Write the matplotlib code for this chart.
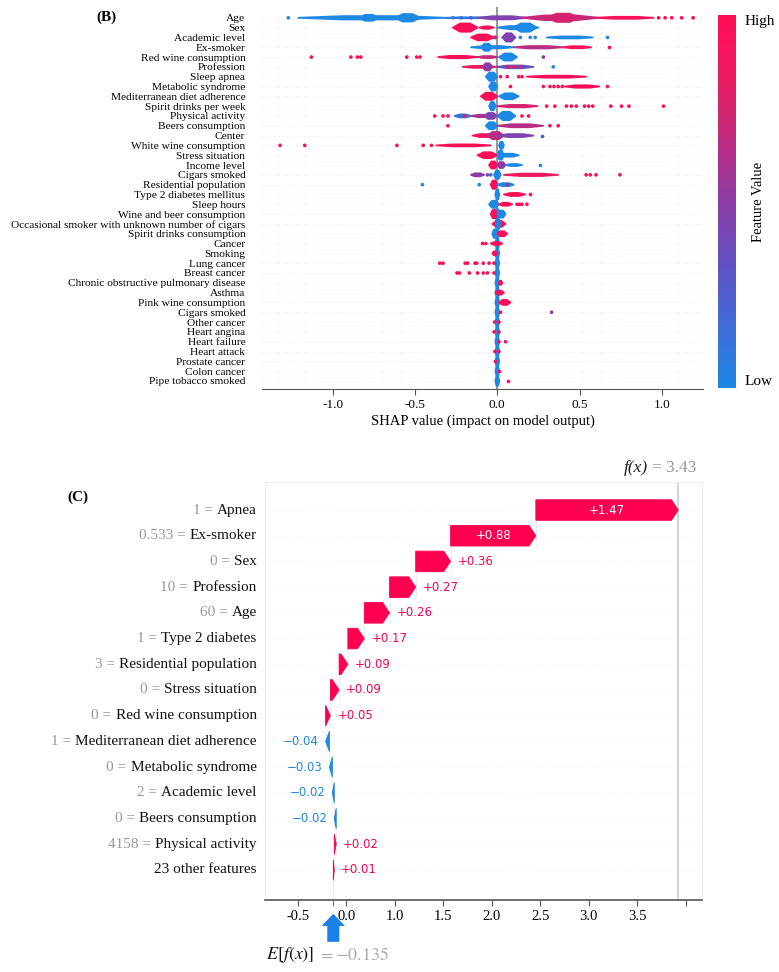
import matplotlib
matplotlib.use('Agg')
import matplotlib.pyplot as plt
import matplotlib.transforms as mtransforms
from matplotlib.colors import LinearSegmentedColormap
from matplotlib.colorbar import ColorbarBase
from matplotlib.patches import Polygon

plt.rcParams['font.family'] = ['Liberation Serif', 'DejaVu Serif']
plt.rcParams['mathtext.fontset'] = 'stix'
plt.rcParams['axes.unicode_minus'] = False

# ---------------- panel B : beeswarm ----------------
features_b = ['Age', 'Sex', 'Academic level', 'Ex-smoker', 'Red wine consumption', 'Profession',
              'Sleep apnea', 'Metabolic syndrome', 'Mediterranean diet adherence',
              'Spirit drinks per week', 'Physical activity', 'Beers consumption', 'Center',
              'White wine consumption', 'Stress situation', 'Income level', 'Cigars smoked',
              'Residential population', 'Type 2 diabetes mellitus', 'Sleep hours',
              'Wine and beer consumption', 'Occasional smoker with unknown number of cigars',
              'Spirit drinks consumption', 'Cancer', 'Smoking', 'Lung cancer', 'Breast cancer',
              'Chronic obstructive pulmonary disease', 'Asthma', 'Pink wine consumption',
              'Cigars smoked', 'Other cancer', 'Heart angina', 'Heart failure', 'Heart attack',
              'Prostate cancer', 'Colon cancer', 'Pipe tobacco smoked']

zero_blue = (-0.012, 0.012, 0.0, 0.5)
bands_b = [
    [(-1.21, -0.31, 0.0, 0.17), (-0.84, -0.72, 0.0, 0.3), (-0.62, -0.47, 0.0, 0.38),
     (-0.31, -0.05, 0.1, 0.05), (-0.12, 0.18, 0.45, 0.16), (0.15, 0.62, 0.7, 0.24),
     (0.30, 0.50, 0.75, 0.42), (0.60, 0.95, 0.95, 0.1)],
    [(-0.27, -0.12, 1.0, 0.42), (-0.11, -0.02, 1.0, 0.12), (0.0, 0.25, 0.0, 0.16), (0.10, 0.24, 0.0, 0.42)],
    [(-0.16, -0.02, 0.95, 0.3), (-0.03, 0.0, 0.7, 0.1), (0.03, 0.11, 0.45, 0.42), (0.30, 0.58, 0.0, 0.1)],
    [(-0.16, 0.10, 0.0, 0.12), (-0.10, -0.03, 0.0, 0.36), (0.10, 0.40, 0.65, 0.12), (0.40, 0.57, 0.95, 0.1)],
    [(-0.36, -0.12, 1.0, 0.12), (-0.12, 0.0, 0.7, 0.1), (0.01, 0.12, 0.0, 0.36)],
    [(-0.21, 0.0, 0.85, 0.1), (-0.09, -0.03, 0.5, 0.36), (0.0, 0.22, 0.3, 0.14)],
    [(-0.07, 0.0, 0.0, 0.42), (0.18, 0.54, 1.0, 0.1)],
    [(-0.05, 0.0, 0.0, 0.42), (0.41, 0.62, 1.0, 0.12)],
    [(-0.10, 0.0, 1.0, 0.36), (0.01, 0.13, 0.0, 0.3)],
    [(-0.05, -0.01, 0.0, 0.42), (0.0, 0.245, 0.75, 0.12)],
    [(-0.26, -0.16, 0.1, 0.15), (-0.16, 0.0, 0.6, 0.12), (-0.08, 0.0, 0.45, 0.3), (0.0, 0.11, 0.0, 0.42)],
    [(-0.07, 0.0, 0.0, 0.36), (0.0, 0.28, 0.65, 0.15)],
    [(-0.15, 0.0, 0.9, 0.15), (-0.06, 0.04, 0.65, 0.36), (0.0, 0.22, 0.45, 0.15)],
    [(-0.37, -0.04, 1.0, 0.1), (0.01, 0.04, 0.0, 0.36)],
    [(-0.12, 0.0, 1.0, 0.3), (0.01, 0.13, 0.0, 0.15), (0.0, 0.04, 0.0, 0.45)],
    [(-0.05, 0.0, 1.0, 0.36), (0.0, 0.05, 0.5, 0.3), (0.05, 0.15, 0.0, 0.1)],
    [(-0.16, -0.08, 0.5, 0.15), (-0.02, 0.02, 0.0, 0.42), (0.04, 0.37, 0.85, 0.12)],
    [(-0.04, 0.0, 1.0, 0.42), (0.0, 0.10, 0.0, 0.15)],
    [zero_blue, (0.04, 0.17, 1.0, 0.15)],
    [(-0.05, 0.01, 0.0, 0.36), (0.01, 0.09, 1.0, 0.15)],
    [zero_blue, (-0.04, 0.0, 1.0, 0.42), (0.0, 0.05, 0.0, 0.36)],
    [zero_blue, (-0.03, 0.05, 1.0, 0.3), (-0.01, 0.02, 0.05, 0.45)],
    [zero_blue, (-0.03, 0.0, 0.0, 0.42), (0.0, 0.06, 1.0, 0.25)],
    [zero_blue, (-0.04, 0.03, 1.0, 0.15)],
    [zero_blue, (-0.03, 0.0, 1.0, 0.2)],
    [zero_blue],
    [zero_blue],
    [zero_blue, (0.01, 0.03, 1.0, 0.2)],
    [zero_blue, (-0.01, 0.04, 1.0, 0.2)],
    [zero_blue, (0.01, 0.08, 1.0, 0.25)],
    [zero_blue], [zero_blue], [zero_blue], [zero_blue], [zero_blue], [zero_blue], [zero_blue], [zero_blue],
]

# single points: (shap value, feature value 0..1)
dots_b = [
    [(-1.27, 0.0), (-0.27, 0.05), (-0.22, 0.1), (-0.16, 0.2), (0.98, 1), (1.02, 1), (1.06, 1), (1.12, 1), (1.19, 1)],
    [],
    [(0.14, 0), (0.20, 0), (0.23, 0), (0.67, 0)],
    [(0.68, 1)],
    [(-1.13, 1), (-0.89, 1), (-0.85, 1), (-0.83, 1), (-0.55, 1), (-0.49, 1), (-0.47, 1), (0.28, 0.5)],
    [(0.06, 1), (0.10, 1), (0.14, 0.9), (0.34, 0.0)],
    [(0.02, 1), (0.06, 1), (0.13, 1), (0.15, 1)],
    [(0.08, 1), (0.28, 1), (0.32, 1), (0.345, 1), (0.37, 1), (0.395, 1), (0.67, 1)],
    [],
    [(0.30, 1), (0.35, 1), (0.42, 1), (0.45, 1), (0.48, 1), (0.53, 1), (0.555, 1), (0.58, 1),
     (0.69, 1), (0.755, 1), (0.80, 1), (1.01, 1)],
    [(-0.38, 1), (-0.33, 1), (-0.30, 1), (-0.20, 1), (0.15, 1), (0.19, 1)],
    [(-0.30, 1), (0.32, 1), (0.37, 1)],
    [(0.27, 0.3)],
    [(-1.32, 1), (-1.17, 1), (-0.61, 1), (-0.45, 1), (-0.40, 1)],
    [],
    [(0.26, 0)],
    [(-0.06, 0.4), (-0.04, 0.2), (0.54, 1), (0.565, 1), (0.60, 1), (0.745, 1)],
    [(-0.455, 0), (-0.11, 0), (0.06, 0.5)],
    [(0.20, 1)],
    [(0.12, 1), (0.135, 1), (0.15, 1), (0.18, 1)],
    [], [], [],
    [(-0.09, 1), (-0.07, 1)],
    [],
    [(-0.35, 1), (-0.33, 1), (-0.195, 1), (-0.18, 1), (-0.135, 1), (-0.125, 1), (-0.085, 1), (-0.05, 1), (-0.02, 1)],
    [(-0.245, 1), (-0.23, 1), (-0.17, 1), (-0.12, 1), (-0.085, 1), (-0.06, 1), (-0.02, 1)],
    [], [], [],
    [(0.02, 1), (0.33, 0.5)],
    [(-0.016, 1), (0.01, 1)],
    [(-0.02, 1), (0.01, 1)],
    [(0.01, 1), (0.05, 1)],
    [(-0.015, 1), (0.01, 1)],
    [(-0.015, 1)],
    [(0.01, 1)],
    [(0.065, 1)],
]

# ---------------- panel C : waterfall ----------------
feat_c = ['23 other features', 'Physical activity', 'Beers consumption', 'Academic level',
          'Metabolic syndrome', 'Mediterranean diet adherence', 'Red wine consumption',
          'Stress situation', 'Residential population', 'Type 2 diabetes', 'Age', 'Profession',
          'Sex', 'Ex-smoker', 'Apnea']
fval_c = ['', '4158', '0', '2', '0', '1', '0', '0', '3', '1', '60', '10', '0', '0.533', '1']
shap_c = [0.01, 0.02, -0.02, -0.02, -0.03, -0.04, 0.05, 0.09, 0.09, 0.17, 0.26, 0.27, 0.36, 0.88, 1.47]
base_c = -0.135
fx_label = '3.43'
xticks_c = [-0.5, 0.0, 0.5, 1.0, 1.5, 2.0, 2.5, 3.0, 3.5]
xticklabels_c = ['-0.5', '0.0', '1.0', '1.5', '2.0', '2.5', '3.0', '3.5', '']

RED = '#ff0051'
BLUE = '#1e88e5'
cmap = LinearSegmentedColormap.from_list('shap_rb', [(0, '#1e88e5'), (0.3, '#5b56c6'), (0.5, '#8b3ba6'),
                                                     (0.7, '#c82878'), (0.85, '#ee1a5e'), (1, '#ff0d57')])

fig = plt.figure(figsize=(7.79, 9.72), dpi=100)

# ---- B ----
axb = fig.add_axes([262 / 779, 1 - 389 / 972, 441 / 779, 382 / 972])
n = len(features_b)
for i, name in enumerate(features_b):
    y = n - 1 - i
    axb.axhline(y, color='#cccccc', lw=0.5, dashes=(1, 5), zorder=-2)
    for x0, x1, c, h in bands_b[i]:
        t = 0.3 * (x1 - x0)
        pts = [(x0, y), (x0 + t, y + h), (x1 - t, y + h), (x1, y), (x1 - t, y - h), (x0 + t, y - h)]
        col = cmap(float(c))
        axb.add_patch(Polygon(pts, closed=True, facecolor=col, edgecolor=col,
                              lw=1.3, joinstyle='round', zorder=2))
    if dots_b[i]:
        xs = [d[0] for d in dots_b[i]]
        cs = [cmap(float(d[1])) for d in dots_b[i]]
        axb.scatter(xs, [y] * len(xs), s=7, c=cs, linewidths=0, zorder=3)
axb.axvline(0, color='#999999', lw=1.5, zorder=-1)
axb.set_xlim(-1.43, 1.25)
axb.set_ylim(-0.82, n + 0.1)
axb.set_yticks(range(n))
axb.set_yticklabels(features_b[::-1], fontsize=8.2)
axb.tick_params(axis='y', length=0, pad=12)
axb.set_xticks([-1.0, -0.5, 0.0, 0.5, 1.0])
axb.set_xticklabels(['-1.0', '-0.5', '0.0', '0.5', '1.0'])
axb.tick_params(axis='x', labelsize=9.5, color='#555555', length=4, pad=3)
for s in ['top', 'left', 'right']:
    axb.spines[s].set_visible(False)
axb.spines['bottom'].set_color('#555555')
axb.set_xlabel('SHAP value (impact on model output)', fontsize=10.5, labelpad=3)

cax = fig.add_axes([718 / 779, 1 - 388 / 972, 18 / 779, 373 / 972])
cb = ColorbarBase(cax, cmap=cmap, orientation='vertical')
cb.outline.set_visible(False)
cb.set_ticks([])
cax.text(1.5, 1.0, 'High', transform=cax.transAxes, ha='left', va='top', fontsize=11)
cax.text(1.5, 0.0, 'Low', transform=cax.transAxes, ha='left', va='bottom', fontsize=11)
cax.text(2.25, 0.5, 'Feature Value', transform=cax.transAxes, rotation=90,
         ha='center', va='center', fontsize=10.5)

fig.text(96 / 779, 1 - 17 / 972, '(B)', fontsize=11, fontweight='bold', va='center')

# ---- C ----
axc = fig.add_axes([265 / 779, 1 - 900 / 972, 437 / 779, 418 / 972])
m = len(feat_c)
start = base_c
for i in range(m):
    w = shap_c[i]
    end = start + w
    axc.axhline(i, color='#dddddd', lw=0.5, dashes=(1, 5), zorder=-2)
    hl = min(0.07, abs(w))
    sgn = 1 if w > 0 else -1
    hh = 0.4
    body = end - sgn * hl
    pts = [(start, i - hh), (start, i + hh), (body, i + hh), (end, i), (body, i - hh)]
    col = RED if w > 0 else BLUE
    axc.add_patch(Polygon(pts, closed=True, facecolor=col, edgecolor=col, lw=0.6, zorder=3))
    lab = ('+%.2f' % w) if w > 0 else ('\u2212%.2f' % abs(w))
    if abs(w) > 0.6:
        axc.text((start + end) / 2, i, lab, color='white', ha='center', va='center',
                 fontsize=8.5, family='DejaVu Sans', zorder=4)
    elif w > 0:
        axc.annotate(lab, xy=(end, i), xytext=(5, 0), textcoords='offset points', color=col,
                     ha='left', va='center', fontsize=8.5, family='DejaVu Sans')
    else:
        axc.annotate(lab, xy=(end, i), xytext=(-5, 0), textcoords='offset points', color=col,
                     ha='right', va='center', fontsize=8.5, family='DejaVu Sans')
    if i < m - 1:
        axc.plot([end, end], [i - 0.4, i + 1.4], color='#bbbbbb', lw=0.5, dashes=(1, 2), zorder=-1)
    start = end
fx = start

axc.axvline(fx, color='#cccccc', lw=1.2, zorder=-1)
axc.plot([base_c, base_c], [-1.2, 0.4], color='#bbbbbb', lw=0.6, dashes=(1, 2), zorder=-1)

ytr = mtransforms.blended_transform_factory(axc.transAxes, axc.transData)
for i in range(m):
    t = axc.annotate(feat_c[i], xy=(0, i), xycoords=ytr, xytext=(-6, 0), textcoords='offset points',
                     ha='right', va='center', fontsize=11, color='#111111')
    if fval_c[i]:
        axc.annotate(fval_c[i] + ' =', xy=(0, 0.5), xycoords=t, xytext=(-3, 0),
                     textcoords='offset points', ha='right', va='center', fontsize=11, color='#999999')

axc.set_xlim(-0.84, 3.67)
axc.set_ylim(-1.17, m - 1 + 1.09)
axc.set_yticks([])
axc.set_xticks(xticks_c)
axc.set_xticklabels(xticklabels_c)
axc.set_xticks([base_c], minor=True)
axc.tick_params(axis='x', which='both', labelsize=10.5, color='#555555', length=4, pad=3)
for s in ['top', 'left', 'right']:
    axc.spines[s].set_color('#eeeeee')
axc.spines['bottom'].set_color('#555555')
axc.spines['bottom'].set_linewidth(1.2)

xtr = mtransforms.blended_transform_factory(axc.transData, axc.transAxes)
g = axc.text(fx - 0.27, 1.033, '= ' + fx_label, transform=xtr, ha='left', va='center',
             fontsize=12.5, color='#999999')
axc.annotate('f(x)', xy=(0, 0.5), xycoords=g, xytext=(-3, 0), textcoords='offset points',
             ha='right', va='center', fontsize=12.5, style='italic', color='#222222')

# blue marker under the base value
ar = [(base_c, -0.033), (base_c - 0.12, -0.062), (base_c - 0.062, -0.062), (base_c - 0.062, -0.10),
      (base_c + 0.062, -0.10), (base_c + 0.062, -0.062), (base_c + 0.12, -0.062)]
axc.add_patch(Polygon(ar, closed=True, facecolor='#1a7fe8', edgecolor='none',
                      transform=xtr, clip_on=False))
e = axc.text(base_c - 0.2, -0.132, r'$E[f(x)]$', transform=xtr, ha='right', va='center',
             fontsize=13, color='#111111')
axc.annotate(r'$= -0.135$', xy=(1, 0.5), xycoords=e, xytext=(3, 0), textcoords='offset points',
             ha='left', va='center', fontsize=13, color='#aaaaaa')

fig.text(67 / 779, 1 - 497 / 972, '(C)', fontsize=11, fontweight='bold', va='center')

fig.savefig('out.png', dpi=100)
